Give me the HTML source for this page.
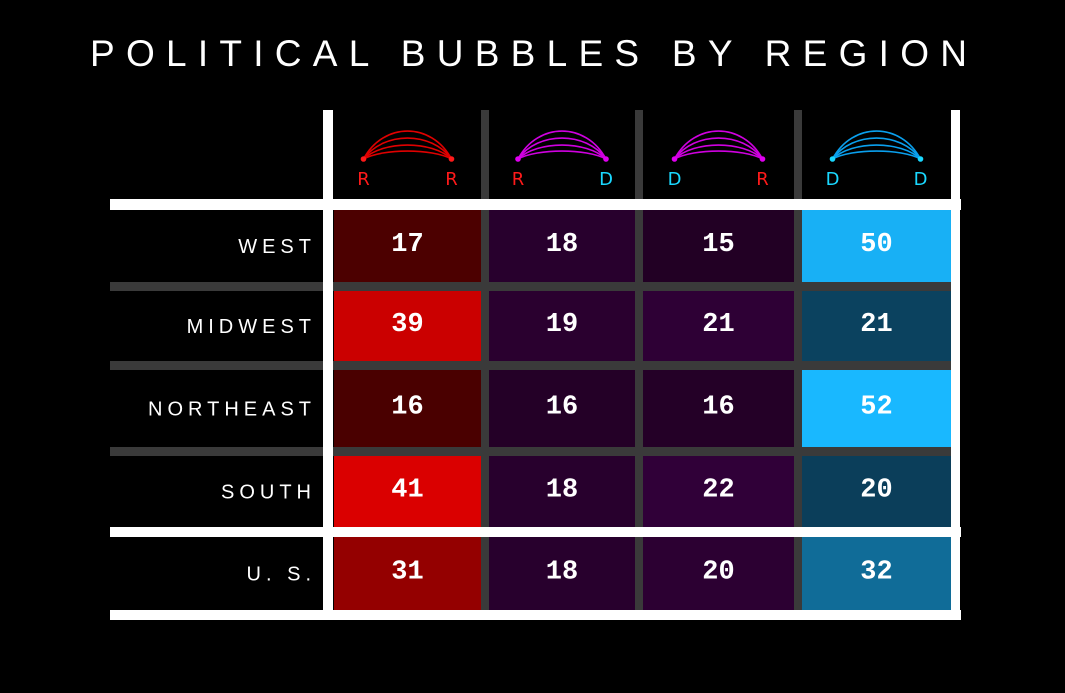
<!DOCTYPE html>
<html><head><meta charset="utf-8"><style>
html,body{margin:0;padding:0;background:#000;}
svg{display:block;}
</style></head><body>
<svg id="chart" width="1065" height="693" viewBox="0 0 1065 693" xmlns="http://www.w3.org/2000/svg">
<rect x="0" y="0" width="1065" height="693" fill="#000"/>
<text x="534" y="66" text-anchor="middle" fill="#fff" font-family="Liberation Sans, sans-serif" font-size="37" letter-spacing="11" textLength="888" lengthAdjust="spacing">POLITICAL BUBBLES BY REGION</text>
<g id="grid"></g>
<g id="cells"></g>
<g id="headers"></g>
</svg>
<script>
const regions = ["WEST","MIDWEST","NORTHEAST","SOUTH","U. S."];
const pairs = [["R","R"],["R","D"],["D","R"],["D","D"]];
const valsRR = [17,39,16,41,31];
const valsRD = [18,19,16,18,18];
const valsDR = [15,21,16,22,20];
const valsDD = [50,21,52,20,32];
const series = [valsRR, valsRD, valsDR, valsDD];

const NS="http://www.w3.org/2000/svg";
function mk(tag, attrs, parent){const e=document.createElementNS(NS,tag);for(const k in attrs)e.setAttribute(k,attrs[k]);parent.appendChild(e);return e;}
const colX=[[334,481],[489,635],[643,794],[802,951]];
const rowY=[[210,282],[291,361],[370,447],[456,527],[537,610]];
function lerp(a,b,t){return Math.round(a+(b-a)*t);}
function mix(c1,c2,t){t=Math.max(0,Math.min(1,t));return `rgb(${lerp(c1[0],c2[0],t)},${lerp(c1[1],c2[1],t)},${lerp(c1[2],c2[2],t)})`;}
function colorFor(ci,v){
  if(ci===0) return mix([74,0,0],[218,0,0],Math.pow((v-16)/25,1.3));
  if(ci===3) return mix([11,62,90],[25,184,255],(v-20)/32);
  return mix([34,0,36],[48,0,56],(v-15)/7);
}
const grid=document.getElementById('grid');
const cells=document.getElementById('cells');
const headers=document.getElementById('headers');
let g;
g=mk('rect',{x:110,y:282,width:841,height:9,fill:'#3a3a3a'},grid);


g=mk('rect',{x:110,y:361,width:841,height:9,fill:'#3a3a3a'},grid);


g=mk('rect',{x:110,y:447,width:841,height:9,fill:'#3a3a3a'},grid);


[[481,489],[635,643],[794,802]].forEach(c=>{
  const r=mk('rect',{x:c[0],y:110,width:c[1]-c[0],height:500,fill:'#3a3a3a'},grid);
  
  
});
[[110,199,851,11],[110,527,851,10],[110,610,851,10],[323,110,10,500],[951,110,9,510]].forEach(a=>{
  const r=mk('rect',{x:a[0],y:a[1],width:a[2],height:a[3],fill:'#fff'},grid);
  
  
});
series.forEach((vals,ci)=>{
  vals.forEach((v,ri)=>{
    const [x0,x1]=colX[ci],[y0,y1]=rowY[ri];
    const r=mk('rect',{x:x0,y:y0,width:x1-x0,height:y1-y0,fill:colorFor(ci,v)},cells);
    
    
    const t=mk('text',{x:(x0+x1)/2,y:(y0+y1)/2+5,'text-anchor':'middle',fill:'#fff','font-family':'Liberation Mono, monospace','font-weight':'bold','font-size':'27'},cells);
    t.textContent=v;
    
    
  });
});
regions.forEach((name,ri)=>{
  const [y0,y1]=rowY[ri];
  const t=mk('text',{x:316,y:(y0+y1)/2+7,'text-anchor':'end',fill:'#fff','font-family':'Liberation Sans, sans-serif','font-size':'20','letter-spacing':'5'},cells);
  t.textContent=name;
  
  
});
const colCol={R:'#ff1a1a',D:'#1ad8ff'};
const arcCol=['#e00000','#d000e0','#d000e0','#0aa0ee'];
const dotCol=['#ff1a1a','#e000f0','#e000f0','#1ad8ff'];
pairs.forEach((p,ci)=>{
  const [x0,x1]=colX[ci];const cx=(x0+x1)/2;
  const xa=cx-44,xb=cx+44,y=159;
  const grp=mk('g',{},headers);
  
  
  [28,21,14,8].forEach(h=>{
    mk('path',{d:`M${xa},${y} C${xa+20},${y-1.33*h} ${xb-20},${y-1.33*h} ${xb},${y}`,fill:'none',stroke:arcCol[ci],'stroke-width':'1.6'},grp);
  });
  mk('circle',{cx:xa,cy:y,r:2.8,fill:dotCol[ci]},grp);
  mk('circle',{cx:xb,cy:y,r:2.8,fill:dotCol[ci]},grp);
  [[xa,p[0]],[xb,p[1]]].forEach(a=>{
    const t=mk('text',{x:a[0],y:185,'text-anchor':'middle',fill:colCol[a[1]],'font-family':'DejaVu Sans, sans-serif','font-size':'18'},grp);
    t.textContent=a[1];
  });
});
</script>
</body></html>
